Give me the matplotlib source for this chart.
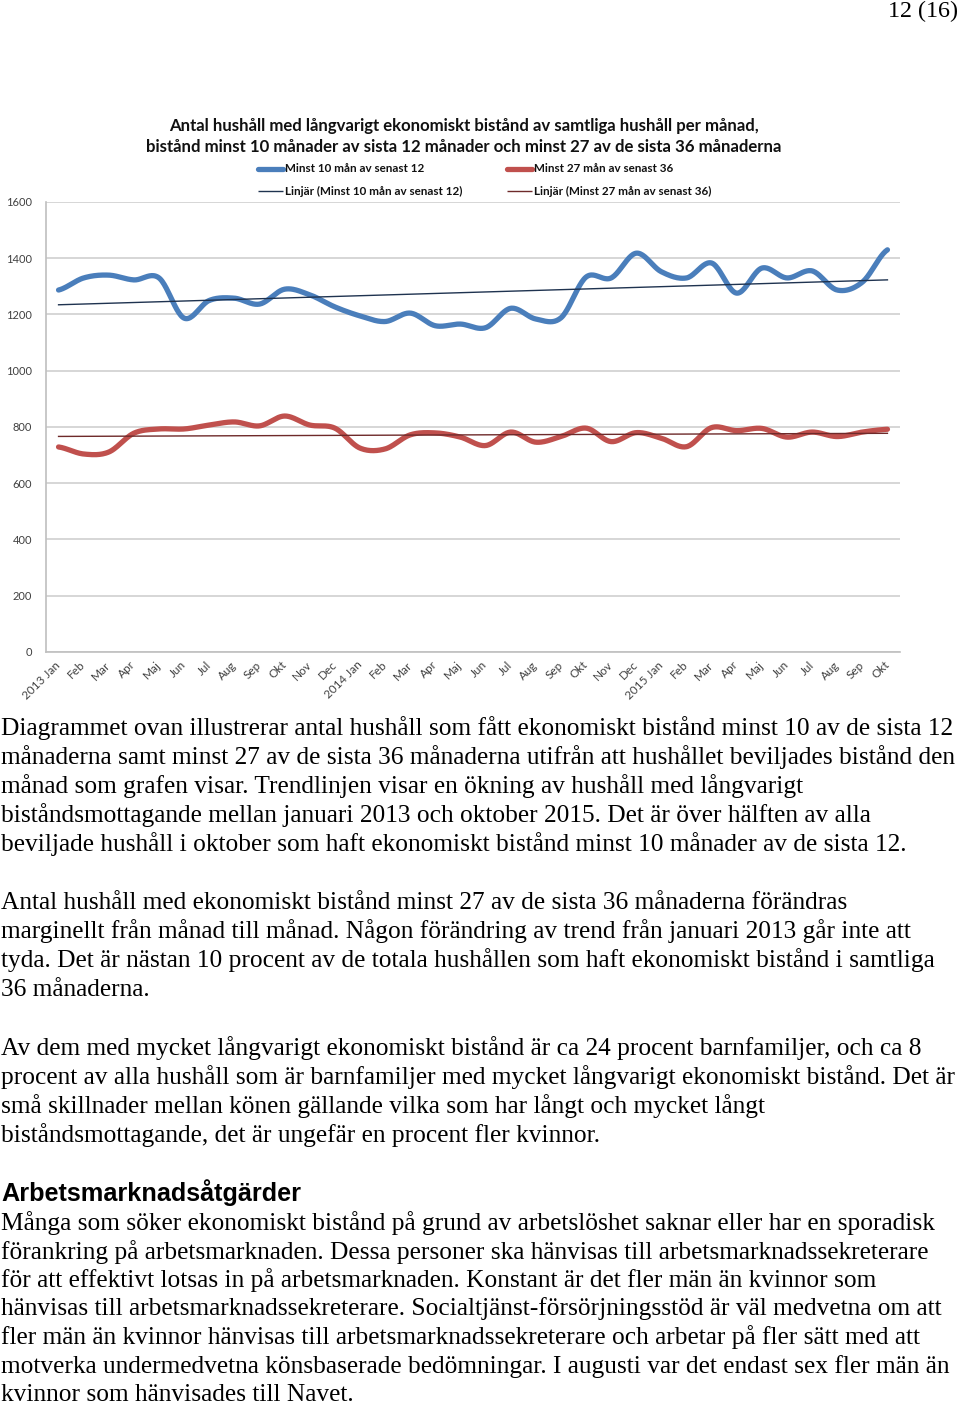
import numpy as np
import matplotlib
matplotlib.use('Agg')
import matplotlib.pyplot as plt
from matplotlib.lines import Line2D

# ---------------- data ----------------
months = ['2013 Jan', 'Feb', 'Mar', 'Apr', 'Maj', 'Jun', 'Jul', 'Aug', 'Sep', 'Okt', 'Nov', 'Dec',
          '2014 Jan', 'Feb', 'Mar', 'Apr', 'Maj', 'Jun', 'Jul', 'Aug', 'Sep', 'Okt', 'Nov', 'Dec',
          '2015 Jan', 'Feb', 'Mar', 'Apr', 'Maj', 'Jun', 'Jul', 'Aug', 'Sep', 'Okt']
minst10 = [1287, 1330, 1340, 1323, 1330, 1187, 1250, 1258, 1237, 1290, 1270, 1227,
           1195, 1175, 1205, 1160, 1166, 1153, 1222, 1184, 1188, 1333, 1330, 1418,
           1352, 1330, 1383, 1276, 1365, 1330, 1355, 1287, 1315, 1430]
minst27 = [729, 704, 711, 778, 793, 793, 807, 818, 804, 839, 807, 796,
           725, 722, 772, 779, 764, 734, 782, 746, 766, 796, 748, 780,
           760, 730, 798, 787, 795, 764, 782, 766, 782, 792]
yticks = [0, 200, 400, 600, 800, 1000, 1200, 1400, 1600]

title_lines = ['Antal hushåll med långvarigt ekonomiskt bistånd av samtliga hushåll per månad,',
               'bistånd minst 10 månader av sista 12 månader och minst 27 av de sista 36 månaderna']
legend_labels = ['Minst 10 mån av senast 12', 'Minst 27 mån av senast 36',
                 'Linjär (Minst 10 mån av senast 12)', 'Linjär (Minst 27 mån av senast 36)']

body_lines = [
    (735, 'Diagrammet ovan illustrerar antal hushåll som fått ekonomiskt bistånd minst 10 av de sista 12'),
    (764, 'månaderna samt minst 27 av de sista 36 månaderna utifrån att hushållet beviljades bistånd den'),
    (793, 'månad som grafen visar. Trendlinjen visar en ökning av hushåll med långvarigt'),
    (822, 'biståndsmottagande mellan januari 2013 och oktober 2015. Det är över hälften av alla'),
    (851, 'beviljade hushåll i oktober som haft ekonomiskt bistånd minst 10 månader av de sista 12.'),
    (909, 'Antal hushåll med ekonomiskt bistånd minst 27 av de sista 36 månaderna förändras'),
    (938, 'marginellt från månad till månad. Någon förändring av trend från januari 2013 går inte att'),
    (967, 'tyda. Det är nästan 10 procent av de totala hushållen som haft ekonomiskt bistånd i samtliga'),
    (996, '36 månaderna.'),
    (1055, 'Av dem med mycket långvarigt ekonomiskt bistånd är ca 24 procent barnfamiljer, och ca 8'),
    (1084, 'procent av alla hushåll som är barnfamiljer med mycket långvarigt ekonomiskt bistånd. Det är'),
    (1113, 'små skillnader mellan könen gällande vilka som har långt och mycket långt'),
    (1142, 'biståndsmottagande, det är ungefär en procent fler kvinnor.'),
    (1230, 'Många som söker ekonomiskt bistånd på grund av arbetslöshet saknar eller har en sporadisk'),
    (1258.5, 'förankring på arbetsmarknaden. Dessa personer ska hänvisas till arbetsmarknadssekreterare'),
    (1287, 'för att effektivt lotsas in på arbetsmarknaden. Konstant är det fler män än kvinnor som'),
    (1315.5, 'hänvisas till arbetsmarknadssekreterare. Socialtjänst-försörjningsstöd är väl medvetna om att'),
    (1344, 'fler män än kvinnor hänvisas till arbetsmarknadssekreterare och arbetar på fler sätt med att'),
    (1372.5, 'motverka undermedvetna könsbaserade bedömningar. I augusti var det endast sex fler män än'),
    (1401, 'kvinnor som hänvisades till Navet.'),
]
heading = 'Arbetsmarknadsåtgärder'
page_no = '12 (16)'

# ---------------- figure ----------------
W, H = 960, 1407
fig = plt.figure(figsize=(W / 100, H / 100), dpi=100)
fig.patch.set_facecolor('white')
renderer = fig.canvas.get_renderer()


def fx(px):
    return px / W


def fy(py):
    return 1 - py / H


def fit_size(text, target_px, base, **kw):
    t = fig.text(0, 0, text, fontsize=base, **kw)
    w = t.get_window_extent(renderer).width
    t.remove()
    return base * target_px / w


CH = 'Lato'
BLUE = '#4A7EBB'
RED = '#C0504D'

ax = fig.add_axes([fx(46), fy(652), (900 - 46) / W, 450 / H])
idx = np.arange(len(months))


def smooth(vals, n=24):
    v = np.asarray(vals, dtype=float)
    xs, ys = [], []
    for i in range(len(v) - 1):
        p0 = v[max(i - 1, 0)]
        p1 = v[i]
        p2 = v[i + 1]
        p3 = v[min(i + 2, len(v) - 1)]
        t = np.linspace(0, 1, n, endpoint=False)
        y = 0.5 * (2 * p1 + (-p0 + p2) * t + (2 * p0 - 5 * p1 + 4 * p2 - p3) * t ** 2
                   + (-p0 + 3 * p1 - 3 * p2 + p3) * t ** 3)
        xs.append(i + t)
        ys.append(y)
    xs.append([len(v) - 1])
    ys.append([v[-1]])
    return np.concatenate(xs), np.concatenate(ys)


for vals, col in [(minst10, BLUE), (minst27, RED)]:
    sx, sy = smooth(vals)
    ax.plot(sx, sy, color=col, lw=3.8, solid_capstyle='round', solid_joinstyle='round', zorder=3)

tr_cols = ['#1F3350', '#6E2A2A']
for vals, col in zip([minst10, minst27], tr_cols):
    k, m = np.polyfit(idx, vals, 1)
    ax.plot(idx[[0, -1]], k * idx[[0, -1]] + m, color=col, lw=1.0, zorder=4)

ax.set_xlim(-0.5, len(months) - 0.5)
ax.set_ylim(0, 1600)
ax.set_yticks(yticks)
ax.set_yticklabels([str(v) for v in yticks], fontsize=8, color='#404040', family=CH)
ax.set_xticks(idx)
ax.set_xticklabels(months, fontsize=8.5, color='#404040', family=CH, rotation=45,
                   ha='right', va='center', rotation_mode='anchor')
ax.tick_params(axis='both', length=0)
ax.tick_params(axis='y', pad=10)
ax.tick_params(axis='x', pad=8)
ax.grid(axis='y', color='#D0D0D0', lw=1.2)
ax.set_axisbelow(True)
for s in ['top', 'right']:
    ax.spines[s].set_visible(False)
ax.spines['left'].set_color('#BFBFBF')
ax.spines['bottom'].set_color('#BFBFBF')
ax.spines['left'].set_linewidth(1.2)
ax.spines['bottom'].set_linewidth(1.2)

# title
ts = fit_size(title_lines[0], 592, 11, family=CH, weight='bold')
fig.text(fx(464), fy(126), title_lines[0], fontsize=ts, family=CH, weight='bold',
         ha='center', va='center', color='#111111')
fig.text(fx(464), fy(147), title_lines[1], fontsize=ts, family=CH, weight='bold',
         ha='center', va='center', color='#111111')

# legend
ls = fit_size(legend_labels[0], 140, 8, family=CH, weight='bold')
leg = [(258, 169, BLUE, 3.8, legend_labels[0]), (507, 169, RED, 3.8, legend_labels[1]),
       (258, 191, tr_cols[0], 1.0, legend_labels[2]), (507, 191, tr_cols[1], 1.0, legend_labels[3])]
for x0, y0, col, lw, lab in leg:
    fig.add_artist(Line2D([fx(x0), fx(x0 + 25)], [fy(y0), fy(y0)], color=col, lw=lw,
                          solid_capstyle='round' if lw > 2 else 'butt'))
    fig.text(fx(x0 + 27), fy(y0), lab, fontsize=ls, family=CH, weight='bold',
             ha='left', va='center', color='#111111')

# body text
SERIF = 'Liberation Serif'
bs = fit_size(body_lines[0][1], 955, 17, family=SERIF)
for yb, line in body_lines:
    fig.text(fx(1), fy(yb), line, fontsize=bs, family=SERIF, ha='left', va='baseline', color='black')

hs = fit_size(heading, 300, 16, family='Liberation Sans', weight='bold')
fig.text(fx(1), fy(1201), heading, fontsize=hs, family='Liberation Sans', weight='bold',
         ha='left', va='baseline', color='black')

fig.text(fx(958), fy(17), page_no, fontsize=bs * 0.95, family=SERIF, ha='right', va='baseline', color='black')

fig.savefig('out.png', dpi=100, facecolor='white')
